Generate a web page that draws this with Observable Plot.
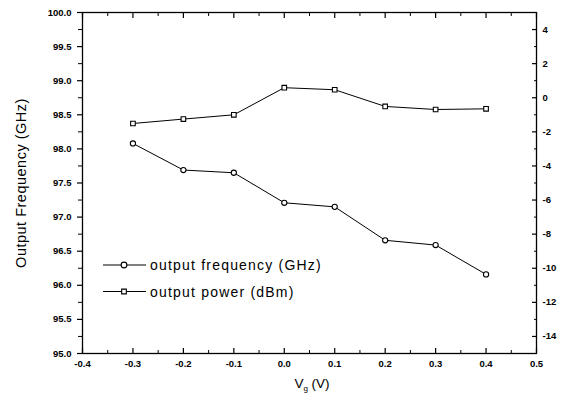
<!DOCTYPE html>
<html><head><meta charset="utf-8">
<script src="https://cdn.jsdelivr.net/npm/d3@7"></script>
<script src="https://cdn.jsdelivr.net/npm/@observablehq/plot@0.6"></script>
<style>body{margin:0;background:#fff}#chart{width:564px;height:406px}</style>
</head><body><div id="chart"></div>
<script>
const voltages = [-0.3, -0.2, -0.1, 0.0, 0.1, 0.2, 0.3, 0.4];
const frequencyGHz = [98.08, 97.69, 97.65, 97.21, 97.15, 96.66, 96.59, 96.16];
const powerDBm = [-1.51, -1.25, -1.0, 0.59, 0.47, -0.51, -0.69, -0.65];
const xTicks = [-0.4, -0.3, -0.2, -0.1, 0.0, 0.1, 0.2, 0.3, 0.4, 0.5];
const xMinorTicks = [-0.35, -0.25, -0.15, -0.05, 0.05, 0.15, 0.25, 0.35, 0.45];
const leftTicks = [95.0, 95.5, 96.0, 96.5, 97.0, 97.5, 98.0, 98.5, 99.0, 99.5, 100.0];
const leftMinorTicks = [95.25, 95.75, 96.25, 96.75, 97.25, 97.75, 98.25, 98.75, 99.25, 99.75];
const rightTicks = [-14, -12, -10, -8, -6, -4, -2, 0, 2, 4];
const rightMinorTicks = [-13, -11, -9, -7, -5, -3, -1, 1, 3];
const seriesNames = ["output frequency (GHz)", "output power (dBm)"];
const yTitle = "Output Frequency (GHz)";
const xTitleMain = "V", xTitleSub = "g", xTitleUnit = " (V)";

const rightDomain = [-15, 5], leftDomain = [95, 100];
const toLeft = p => leftDomain[0] + (p - rightDomain[0]) * (leftDomain[1] - leftDomain[0]) / (rightDomain[1] - rightDomain[0]);
const fromLeft = y => rightDomain[0] + (y - leftDomain[0]) * (rightDomain[1] - rightDomain[0]) / (leftDomain[1] - leftDomain[0]);
const fmt1 = d => (d < -1e-9 ? "-" : "") + Math.abs(d).toFixed(1);
const fmtInt = d => { const v = Math.round(d); return (v < 0 ? "-" : "") + Math.abs(v); };

const freqRows = voltages.map((v, i) => ({v, y: frequencyGHz[i]}));
const powerRows = voltages.map((v, i) => ({v, y: toLeft(powerDBm[i])}));

const plot = Plot.plot({
  width: 564, height: 406,
  marginLeft: 82, marginRight: 28, marginTop: 12, marginBottom: 53,
  x: {domain: [-0.4, 0.5]},
  y: {domain: leftDomain},
  style: {fontFamily: "'Liberation Sans', Arial, sans-serif", fontSize: "9.5px", fontWeight: "bold", color: "#000", background: "#fff"},
  marks: [
    Plot.frame({stroke: "#000", strokeWidth: 1.3}),
    // bottom axis
    Plot.axisX({anchor: "bottom", ticks: xTicks, tickSize: -5, text: null, label: null, strokeWidth: 1.2}),
    Plot.axisX({anchor: "bottom", ticks: xMinorTicks, tickSize: -3, text: null, label: null}),
    Plot.axisX({anchor: "bottom", ticks: xTicks, tickSize: 0, tickPadding: 7, tickFormat: fmt1, label: null}),
    // top axis (ticks only)
    Plot.axisX({anchor: "top", ticks: xTicks, tickSize: -5, text: null, label: null, strokeWidth: 1.2}),
    Plot.axisX({anchor: "top", ticks: xMinorTicks, tickSize: -3, text: null, label: null}),
    // left axis
    Plot.axisY({anchor: "left", ticks: leftTicks, tickSize: 5, tickPadding: 6, tickFormat: fmt1, label: null, strokeWidth: 1.2}),
    Plot.axisY({anchor: "left", ticks: leftMinorTicks, tickSize: 4, text: null, label: null}),
    // right axis
    Plot.axisY({anchor: "right", ticks: rightTicks.map(toLeft), tickSize: -5, text: null, label: null, strokeWidth: 1.2}),
    Plot.axisY({anchor: "right", ticks: rightMinorTicks.map(toLeft), tickSize: -3, text: null, label: null}),
    Plot.axisY({anchor: "right", ticks: rightTicks.map(toLeft), tickSize: 0, tickPadding: 6, tickFormat: d => fmtInt(fromLeft(d)), label: null}),
    // series
    Plot.line(freqRows, {x: "v", y: "y", stroke: "#000", strokeWidth: 1}),
    Plot.dot(freqRows, {x: "v", y: "y", r: 2.6, stroke: "#000", fill: "#fff", strokeWidth: 1.1}),
    Plot.line(powerRows, {x: "v", y: "y", stroke: "#000", strokeWidth: 1}),
    Plot.dot(powerRows, {x: "v", y: "y", r: 2.6, symbol: "square", stroke: "#000", fill: "#fff", strokeWidth: 1.1})
  ]
});
document.getElementById("chart").appendChild(plot);

// titles and legend
const svg = d3.select(plot);
const font = "'Liberation Sans', Arial, sans-serif";
svg.append("text")
  .attr("transform", "translate(26,183) rotate(-90)")
  .attr("text-anchor", "middle").attr("font-family", font).attr("font-weight", "normal")
  .attr("font-size", 14.5).attr("letter-spacing", 0.5).attr("fill", "#000")
  .text(yTitle);
const xt = svg.append("text").attr("x", 312).attr("y", 388)
  .attr("text-anchor", "middle").attr("font-family", font).attr("font-weight", "normal").attr("font-size", 13.5).attr("fill", "#000");
xt.append("tspan").text(xTitleMain);
xt.append("tspan").attr("font-size", 8).attr("dy", 3).text(xTitleSub);
xt.append("tspan").attr("dy", -3).text(xTitleUnit);

const legend = svg.append("g").attr("font-family", font).attr("font-weight", "normal").attr("font-size", 14).attr("fill", "#000").attr("text-anchor", "start");
const symbols = [d3.symbolCircle, d3.symbolSquare];
seriesNames.forEach((name, i) => {
  const yy = 265 + i * 26.5;
  legend.append("line").attr("x1", 103).attr("x2", 146).attr("y1", yy).attr("y2", yy).attr("stroke", "#000");
  legend.append("path").attr("transform", `translate(124,${yy})`)
    .attr("d", d3.symbol(symbols[i], i === 0 ? 26 : 22)()).attr("fill", "#fff").attr("stroke", "#000").attr("stroke-width", 1.1);
  legend.append("text").attr("x", 150).attr("y", yy + 5).attr("text-anchor", "start").attr("letter-spacing", 1.2).text(name);
});
</script>
</body></html>
